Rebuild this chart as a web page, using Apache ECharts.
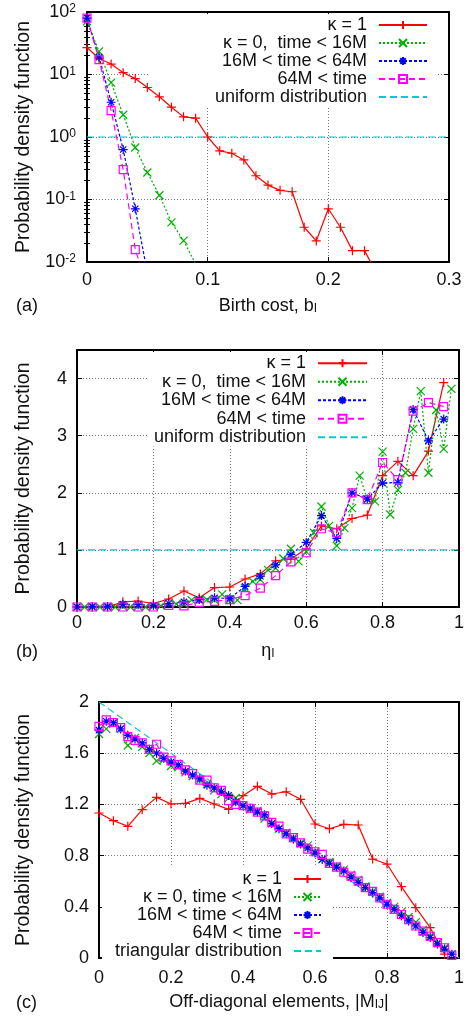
<!DOCTYPE html>
<html><head><meta charset="utf-8">
<script src="https://cdn.jsdelivr.net/npm/echarts@6/dist/echarts.min.js"></script>
<style>html,body{margin:0;padding:0;background:#fff}#c{width:471px;height:1018px}</style>
</head><body><div id="c"></div>
<script>
// ---------- panel (a): birth cost ----------
const aX = [0,0.01,0.02,0.03,0.04,0.05,0.06,0.07,0.08,0.09,0.10,0.11,0.12,0.13,0.14,0.15,0.16,0.17,0.18,0.19,0.20,0.21,0.22,0.23,0.24];
const aK1 = [27,18,14.7,10.7,8.6,6.2,4.4,3.0,2.1,2.0,1.0,0.60,0.55,0.43,0.24,0.17,0.14,0.133,0.036,0.0217,0.071,0.036,0.0152,0.0152,0.0066];
const aK0 = [71,23.5,7.4,2.27,0.68,0.27,0.117,0.043,0.022,0.0093];
const aMid = [80,19,3.6,0.63,0.071,0.0067];
const aLate = [80,17.3,2.64,0.30,0.0158,0.004];
const aUniX = [0,0.3];
const aUni = [1,1];
const aXTicks = [0,0.1,0.2,0.3];
const aMinorTicks = [0.02,0.03,0.04,0.05,0.06,0.07,0.08,0.09,0.2,0.3,0.4,0.5,0.6,0.7,0.8,0.9,2,3,4,5,6,7,8,9,20,30,40,50,60,70,80,90];

// ---------- panel (b): eta ----------
const bX4 = [0,0.04,0.08,0.12,0.16,0.20,0.24,0.28,0.32,0.36,0.40,0.44,0.48,0.52,0.56,0.60,0.64,0.68,0.72,0.76,0.80,0.84,0.88,0.92,0.96];
const bX2 = [0,0.02,0.04,0.06,0.08,0.10,0.12,0.14,0.16,0.18,0.20,0.22,0.24,0.26,0.28,0.30,0.32,0.34,0.36,0.38,0.40,0.42,0.44,0.46,0.48,0.50,0.52,0.54,0.56,0.58,0.60,0.62,0.64,0.66,0.68,0.70,0.72,0.74,0.76,0.78,0.80,0.82,0.84,0.86,0.88,0.90,0.92,0.94,0.96,0.98];
const bK1 = [0,0,0,0.09,0.105,0.06,0.14,0.28,0.16,0.34,0.35,0.49,0.58,0.81,0.84,1.02,1.42,1.37,1.55,1.61,2.30,2.55,2.30,2.73,3.93];
const bK0 = [0,0,0,0,0,0,0.01,0,0.01,0,0.01,0.02,0.07,0.05,0.05,0.12,0.12,0.13,0.12,0.22,0.13,0.12,0.33,0.45,0.48,0.65,0.68,0.85,1.02,0.80,0.97,1.30,1.76,1.42,1.07,1.38,1.73,2.30,1.88,1.85,2.72,1.62,2.05,2.35,3.12,3.78,2.35,3.45,2.77,3.82];
const bMid = [0,0.01,0.01,0.05,0.04,0.03,0.06,0.09,0.13,0.16,0.15,0.36,0.54,0.74,0.92,1.13,1.60,1.20,2.00,1.89,2.17,2.18,3.46,2.91,3.29];
const bLate = [0,0,0,0,0,0,0.03,0.02,0.08,0.10,0.13,0.20,0.33,0.55,0.79,0.95,1.37,1.30,2.00,1.88,2.53,2.23,3.43,3.58,3.51];
const bUniX = [0,1];
const bUni = [1,1];

// ---------- panel (c): off-diagonal elements ----------
const cX4 = bX4;
const cX2 = bX2;
const cK1 = [1.133,1.073,1.029,1.159,1.255,1.203,1.208,1.247,1.203,1.161,1.268,1.341,1.281,1.299,1.24,1.047,1.010,1.044,1.039,0.773,0.734,0.557,0.393,0.237,0.03];
const cK0 = [1.75,1.79,1.83,1.79,1.66,1.72,1.65,1.60,1.54,1.55,1.50,1.49,1.45,1.42,1.39,1.36,1.31,1.28,1.25,1.25,1.19,1.16,1.15,1.09,1.05,1.01,0.98,0.94,0.90,0.88,0.83,0.77,0.75,0.72,0.69,0.65,0.61,0.56,0.52,0.48,0.43,0.40,0.36,0.32,0.28,0.22,0.17,0.12,0.08,0.03];
const cMid = [1.78,1.85,1.84,1.79,1.74,1.71,1.68,1.63,1.60,1.56,1.53,1.51,1.46,1.43,1.40,1.35,1.33,1.30,1.27,1.22,1.19,1.17,1.14,1.12,1.05,1.01,0.97,0.93,0.89,0.86,0.82,0.77,0.74,0.71,0.68,0.63,0.59,0.55,0.51,0.47,0.42,0.38,0.33,0.29,0.25,0.20,0.16,0.11,0.07,0.03];
const cLate = [1.81,1.86,1.84,1.80,1.73,1.70,1.68,1.63,1.67,1.57,1.54,1.51,1.47,1.44,1.39,1.39,1.33,1.31,1.23,1.20,1.19,1.17,1.14,1.11,1.06,1.03,0.97,0.94,0.90,0.85,0.83,0.81,0.74,0.71,0.67,0.64,0.60,0.55,0.52,0.47,0.42,0.38,0.34,0.30,0.25,0.21,0.17,0.12,0.08,0.02];
const cTriX = [0,1];
const cTri = [2,0];

// ---------- names ----------
const N_K1 = 'κ = 1';
const N_K0 = 'κ = 0,  time < 16M';
const N_K0c = 'κ = 0, time < 16M';
const N_MID = '16M < time < 64M';
const N_LATE = '64M < time';
const N_UNI = 'uniform distribution';
const N_TRI = 'triangular distribution';

// ---------- styling ----------
const FONT = '"Liberation Sans", Arial, Helvetica, sans-serif';
const TXT = '#111';
const PLUS = 'path://M0,5L10,5M5,0L5,10';
const CROSS = 'path://M0,0L10,10M0,10L10,0';
const STAR = 'path://M5,0L5,10M0,5L10,5M1.5,1.5L8.5,8.5M1.5,8.5L8.5,1.5';
const SQUARE = 'path://M0,0L10,0L10,10L0,10Z';
const STY = {
  k1:   {c:'#ff0000', dash:'solid', sym:PLUS, size:9},
  k0:   {c:'#00b000', dash:[2,2], sym:CROSS, size:8},
  mid:  {c:'#0000ff', dash:[3,2], sym:STAR, size:9},
  late: {c:'#ff00ff', dash:[6,4], sym:SQUARE, size:8, hollow:true},
  ref:  {c:'#00cccc', dash:[7,4], sym:SQUARE, size:0, noSym:true}
};
function line(name, s, xs, ys, xi, yi) {
  return {
    type:'line', name, xAxisIndex:xi, yAxisIndex:yi,
    data: ys.map((y,i)=>[xs[i], y]),
    symbol: s.sym, symbolSize: s.size, showSymbol: !s.noSym, showAllSymbol: true,
    lineStyle: {color:s.c, width:1.2, type:s.dash},
    itemStyle: s.noSym
      ? {color:'rgba(0,0,0,0)', borderColor:'rgba(0,0,0,0)', borderWidth:0}
      : {color: s.hollow ? 'rgba(0,0,0,0)' : s.c, borderColor:s.c, borderWidth:1.2},
    emphasis: {disabled:true}, clip:true, z:2
  };
}
const splitStyle = {show:true, lineStyle:{color:'#777', type:[1,2], width:1}};
const axLine = {show:true, onZero:false, lineStyle:{color:'#000', width:2}};
const tick = {show:true, inside:true, length:5, lineStyle:{color:'#000', width:1}};
const subRich = {
  b: {fontFamily:FONT, fontSize:18, lineHeight:18, color:TXT, verticalAlign:'top'},
  sub: {fontFamily:FONT, fontSize:12, lineHeight:12, color:TXT, verticalAlign:'bottom', padding:[8,0,0,0]}
};
function xMain(gi, min, max, interval, name, margin) {
  return {
    type:'value', gridIndex:gi, position:'bottom', min, max, interval,
    axisLine:axLine, axisTick:tick, splitLine:splitStyle,
    axisLabel:{margin, fontFamily:FONT, fontSize:18, color:TXT},
    name, nameLocation:'middle', nameGap:35, nameMoveOverlap:false,
    nameTextStyle:{fontFamily:FONT, fontSize:18, color:TXT, rich:subRich}
  };
}
function xMirror(gi, min, max, interval) {
  return {type:'value', gridIndex:gi, position:'top', min, max, interval,
    axisLine:axLine, axisTick:tick, axisLabel:{show:false}, splitLine:{show:false}};
}
function yLin(gi, min, max, interval, gap, showMax) {
  return {
    type:'value', gridIndex:gi, position:'left', min, max, interval,
    axisLine:axLine, axisTick:tick, splitLine:splitStyle,
    axisLabel:{margin:10, fontFamily:FONT, fontSize:18, color:TXT, showMaxLabel:showMax},
    name:'Probability density function', nameLocation:'middle', nameGap:gap, nameMoveOverlap:false,
    nameTextStyle:{fontFamily:FONT, fontSize:19.5, color:TXT}
  };
}
function yMirror(gi, type, min, max, interval) {
  const o = {type, gridIndex:gi, position:'right', min, max,
    axisLine:axLine, axisTick:tick, axisLabel:{show:false}, splitLine:{show:false}};
  if (interval) o.interval = interval;
  return o;
}
function yMinor(gi, pos) {
  return {type:'log', logBase:10, gridIndex:gi, position:pos, min:0.01, max:100,
    axisLine:{show:false}, axisLabel:{show:false}, splitLine:{show:false},
    axisTick:{show:true, inside:true, length:3, customValues:aMinorTicks, lineStyle:{color:'#000', width:1}}};
}
function legend(items, right, top, itemWidth, lh, pad) {
  return {
    data: items, orient:'vertical', align:'right', right, top,
    itemWidth, itemHeight:10, itemGap:0, padding:pad,
    backgroundColor:'#fff', z:1, selectedMode:false,
    textStyle:{fontFamily:FONT, fontSize:18, color:TXT, lineHeight:lh, padding:[0,7,0,0]}
  };
}

const option = {
  animation:false,
  backgroundColor:'#fff',
  grid:[
    {left:87, top:12, width:362, height:250, outerBoundsMode:'none'},
    {left:77, top:350, width:382, height:257, outerBoundsMode:'none'},
    {left:99, top:702, width:360, height:256, outerBoundsMode:'none'}
  ],
  xAxis:[
    xMain(0, aXTicks[0], aXTicks[aXTicks.length-1], 0.1, '{b|Birth cost, b}{sub|I}', 9),
    xMirror(0, 0, 0.3, 0.1),
    xMain(1, 0, 1, 0.2, '{b|η}{sub|I}', 7),
    xMirror(1, 0, 1, 0.2),
    xMain(2, 0, 1, 0.2, '{b|Off-diagonal elements, |M}{sub|IJ}{b||}', 11),
    xMirror(2, 0, 1, 0.2)
  ],
  yAxis:[
    {
      type:'log', logBase:10, gridIndex:0, position:'left', min:0.01, max:100, splitNumber:4,
      axisLine:axLine, axisTick:tick, splitLine:splitStyle,
      axisLabel:{
        margin:11, fontFamily:FONT, fontSize:18, color:TXT,
        formatter: v => '{b|10}{sup|' + Math.round(Math.log10(v)) + '}',
        rich:{
          b:{fontFamily:FONT, fontSize:18, lineHeight:18, color:TXT, verticalAlign:'bottom'},
          sup:{fontFamily:FONT, fontSize:12, lineHeight:12, color:TXT, verticalAlign:'top', padding:[0,0,12,0]}
        }
      },
      name:'Probability density function', nameLocation:'middle', nameGap:53, nameMoveOverlap:false,
      nameTextStyle:{fontFamily:FONT, fontSize:19.5, color:TXT}
    },
    yMirror(0, 'log', 0.01, 100),
    yMinor(0, 'left'),
    yMinor(0, 'right'),
    yLin(1, 0, 4.5, 1, 43, false),
    yMirror(1, 'value', 0, 4.5, 1),
    yLin(2, 0, 2, 0.4, 65, true),
    yMirror(2, 'value', 0, 2, 0.4)
  ],
  legend:[
    legend([N_K1,N_K0,N_MID,N_LATE,N_UNI], 33, 14, 48, 18, [2,10,0,65]),
    legend([N_K1,N_K0,N_MID,N_LATE,N_UNI], 101, 352, 49, 18.5, [2,2,0,6]),
    legend([N_K1,N_K0c,N_MID,N_LATE,N_TRI], 138, 866, 27, 16.4, [4,11,4,13])
  ],
  graphic:[
    {type:'text', left:16, top:297, style:{text:'(a)', font:'18px "Liberation Sans", Arial', fill:TXT}},
    {type:'text', left:16, top:643, style:{text:'(b)', font:'18px "Liberation Sans", Arial', fill:TXT}},
    {type:'text', left:16, top:994, style:{text:'(c)', font:'18px "Liberation Sans", Arial', fill:TXT}}
  ],
  series:[
    line(N_K1, STY.k1, aX, aK1, 0, 0),
    line(N_K0, STY.k0, aX, aK0, 0, 0),
    line(N_MID, STY.mid, aX, aMid, 0, 0),
    line(N_LATE, STY.late, aX, aLate, 0, 0),
    line(N_UNI, STY.ref, aUniX, aUni, 0, 0),

    line(N_K1, STY.k1, bX4, bK1, 2, 4),
    line(N_K0, STY.k0, bX2, bK0, 2, 4),
    line(N_MID, STY.mid, bX4, bMid, 2, 4),
    line(N_LATE, STY.late, bX4, bLate, 2, 4),
    line(N_UNI, STY.ref, bUniX, bUni, 2, 4),

    line(N_K1, STY.k1, cX4, cK1, 4, 6),
    line(N_K0c, STY.k0, cX2, cK0, 4, 6),
    line(N_MID, STY.mid, cX2, cMid, 4, 6),
    line(N_LATE, STY.late, cX2, cLate, 4, 6),
    line(N_TRI, STY.ref, cTriX, cTri, 4, 6)
  ]
};
const chart = echarts.init(document.getElementById('c'), null, {renderer:'canvas'});
chart.setOption(option);
</script>
</body></html>
